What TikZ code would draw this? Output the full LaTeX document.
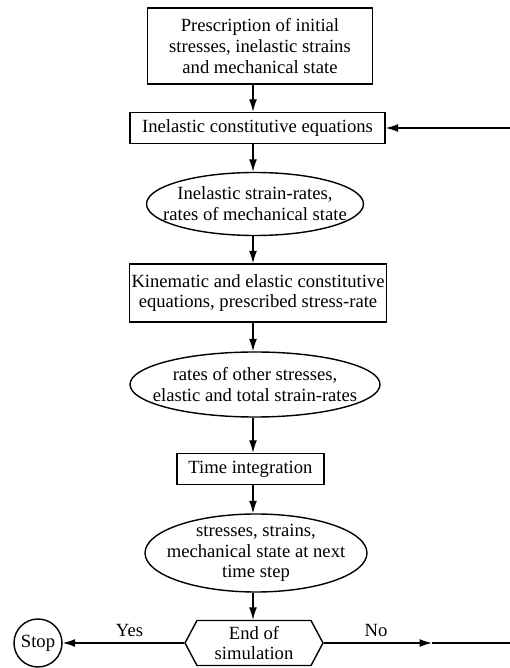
\documentclass[tikz,border=0pt]{standalone}
\usepackage{fontspec}
\setmainfont{Liberation Serif}
\usepackage{tikz}
\usetikzlibrary{shapes.geometric}
\usetikzlibrary{shapes.symbols}
\usetikzlibrary{arrows.meta}
\tikzset{
  flow/.style={line width=0.8pt, -{Latex[length=2.5mm,width=1.6mm]}},
  stepbox/.style={draw, line width=0.8pt, align=center, inner xsep=1pt, inner ysep=2pt},
  result/.style={draw, ellipse, line width=0.8pt, align=center, inner sep=-20pt},
  decision/.style={draw, signal, signal to=east and west, signal pointer angle=124,
    line width=0.8pt, align=center, inner sep=0pt}
}
\newcommand{\txt}{\fontsize{10.6pt}{11.8pt}\selectfont}

\begin{document}
\begin{tikzpicture}[font=\txt]
        \useasboundingbox (0,0) rectangle (10.2,13.36);
        % boxes and ellipses down the middle
        \node[stepbox, minimum width=4.5cm, minimum height=1.52cm] (presc) at (5.2,12.44)
          {Prescription of initial\\stresses, inelastic strains\\and mechanical state};
        \node[stepbox, minimum width=5.1cm, minimum height=0.62cm] (inel) at (5.15,10.8)
          {Inelastic constitutive equations};
        \node[result, minimum width=4.34cm, minimum height=1.26cm] (rates) at (5.1,9.28)
          {Inelastic strain-rates,\\rates of mechanical state};
        \node[stepbox, minimum width=5.0cm, minimum height=1.16cm] (kin) at (5.16,7.5)
          {Kinematic and elastic constitutive\\equations, prescribed stress-rate};
        \node[result, minimum width=5.0cm, minimum height=1.3cm] (other) at (5.1,5.67)
          {rates of other stresses,\\elastic and total strain-rates};
        \node[stepbox, minimum width=2.94cm, minimum height=0.62cm] (integ) at (5.01,3.98)
          {Time integration};
        \node[result, minimum width=4.44cm, minimum height=1.56cm] (next) at (5.12,2.3)
          {stresses, strains,\\mechanical state at next\\time step};
        \node[decision, minimum width=2.76cm, minimum height=0.9cm] (endsim) at (5.08,0.5)
          {End of\\simulation};
        \node[draw, circle, line width=0.8pt, minimum size=0.96cm, inner sep=0pt] (stop) at (0.76,0.5)
          {Stop};

        % axis of the vertical arrows, loose ends at the right margin
        \coordinate (axis) at (5.06,0);
        \coordinate (back) at (10.2,10.8);
        \coordinate (nomid) at (8.64,0.5);
        \coordinate (noend) at (10.2,0.5);

        % arrows
        \draw[flow] (axis |- presc.south) -- (axis |- inel.north);
        \draw[flow] (axis |- inel.south) -- (axis |- rates.north);
        \draw[flow] (axis |- rates.south) -- (axis |- kin.north);
        \draw[flow] (axis |- kin.south) -- (axis |- other.north);
        \draw[flow] (axis |- other.south) -- (axis |- integ.north);
        \draw[flow] (axis |- integ.south) -- (axis |- next.north);
        \draw[flow] (axis |- next.south) -- (axis |- endsim.north);
        \draw[flow] (endsim.west) -- node[above, pos=0.45] (yes) {Yes} (stop.east);
        \draw[flow] (endsim.east) -- (nomid);
        \draw[line width=0.8pt] (nomid) -- (noend);
        \node[above] (no) at (7.52,0.5) {No};
        \draw[flow] (back) -- (inel.east);
\end{tikzpicture}
\end{document}
